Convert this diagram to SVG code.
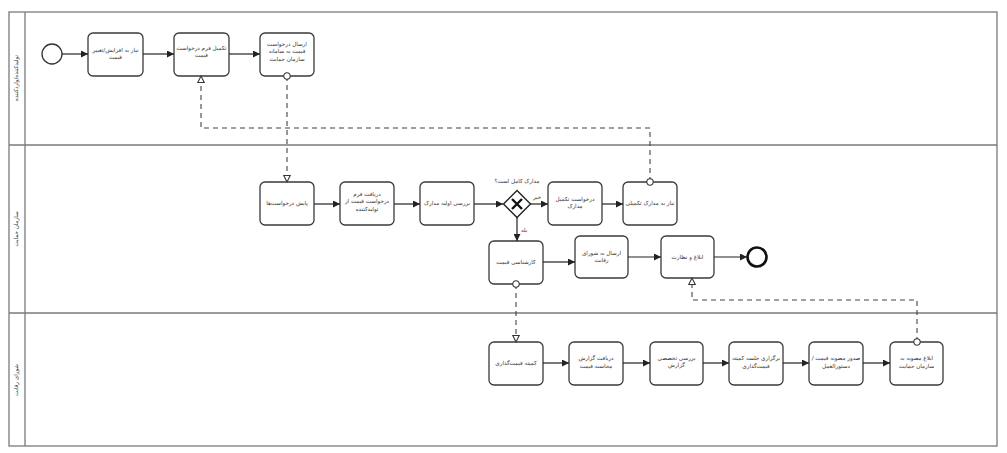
<svg xmlns="http://www.w3.org/2000/svg" width="1007" height="453" viewBox="0 0 1007 453">
<defs>
<style>
.pool{fill:none;stroke:#7a7a7a;stroke-width:1.3}
.task{fill:#fff;stroke:#3a3a3a;stroke-width:1.3}
.t{font-family:"DejaVu Sans",sans-serif;font-size:5.6px;fill:#333;text-anchor:middle}
.lane{font-family:"DejaVu Sans",sans-serif;font-size:5.6px;fill:#333;text-anchor:middle}
.seq{fill:none;stroke:#222;stroke-width:1.2}
.msg{fill:none;stroke:#444;stroke-width:1.1;stroke-dasharray:5 4}
</style>
<marker id="arr" viewBox="0 0 10 10" refX="10" refY="5" markerWidth="7" markerHeight="7" markerUnits="userSpaceOnUse" orient="auto">
<path d="M0,0 L10,5 L0,10 z" fill="#222"/>
</marker>
<marker id="tri" viewBox="0 0 10 10" refX="9" refY="5" markerWidth="8" markerHeight="8" markerUnits="userSpaceOnUse" orient="auto">
<path d="M1,1 L9,5 L1,9 z" fill="#fff" stroke="#333" stroke-width="1.3"/>
</marker>
<marker id="circ" viewBox="0 0 10 10" refX="5" refY="5" markerWidth="8" markerHeight="8" markerUnits="userSpaceOnUse" orient="auto">
<circle cx="5" cy="5" r="4" fill="#fff" stroke="#333" stroke-width="1.3"/>
</marker>
</defs>
<rect width="1007" height="453" fill="#fff"/>
<g id="pool">
<rect class="pool" x="9" y="12" width="988" height="434"/>
<line class="pool" x1="25" y1="12" x2="25" y2="446"/>
<line class="pool" x1="9" y1="145" x2="997" y2="145"/>
<line class="pool" x1="9" y1="313" x2="997" y2="313"/>
<text class="lane" transform="translate(18,78) rotate(-90)">تولیدکننده/واردکننده</text>
<text class="lane" transform="translate(18,229) rotate(-90)">سازمان حمایت</text>
<text class="lane" transform="translate(18,380) rotate(-90)">شورای رقابت</text>
</g>
<g id="start"><circle cx="52" cy="54" r="10" fill="#fff" stroke="#333" stroke-width="1.3"/></g>
<g id="t1"><rect class="task" x="88" y="33" width="55" height="43" rx="5"/><text class="t" x="115.5" y="52"><tspan x="115.5">نیاز به افزایش/تغییر</tspan><tspan x="115.5" dy="7">قیمت</tspan></text></g>
<g id="t2"><rect class="task" x="174" y="33" width="55" height="43" rx="5"/><text class="t" x="201.5" y="50"><tspan x="201.5">تکمیل فرم درخواست</tspan><tspan x="201.5" dy="7">قیمت</tspan></text></g>
<g id="t3"><rect class="task" x="260" y="33" width="54" height="43" rx="5"/><text class="t" x="287" y="46"><tspan x="287">ارسال درخواست</tspan><tspan x="287" dy="7">قیمت به سامانه</tspan><tspan x="287" dy="8">سازمان حمایت</tspan></text></g>
<g id="l2a"><rect class="task" x="260" y="182" width="54" height="43" rx="5"/><text class="t" x="287" y="205">پایش درخواست‌ها</text></g>
<g id="l2b"><rect class="task" x="340" y="182" width="54" height="43" rx="5"/><text class="t" x="367" y="196"><tspan x="367">دریافت فرم</tspan><tspan x="367" dy="7">درخواست قیمت از</tspan><tspan x="367" dy="8">تولیدکننده</tspan></text></g>
<g id="l2c"><rect class="task" x="420" y="182" width="54" height="43" rx="5"/><text class="t" x="447" y="205">بررسی اولیه مدارک</text></g>
<g id="l2d"><rect class="task" x="548" y="182" width="54" height="43" rx="5"/><text class="t" x="575" y="201"><tspan x="575">درخواست تکمیل</tspan><tspan x="575" dy="7">مدارک</tspan></text></g>
<g id="l2e"><rect class="task" x="623" y="182" width="54" height="43" rx="5"/><text class="t" x="650" y="205">نیاز به مدارک تکمیلی</text></g>
<g id="l2f"><rect class="task" x="489" y="241" width="54" height="43" rx="5"/><text class="t" x="516" y="264">کارشناسی قیمت</text></g>
<g id="l2g"><rect class="task" x="575" y="236" width="53" height="42" rx="5"/><text class="t" x="601.5" y="255"><tspan x="601.5">ارسال به شورای</tspan><tspan x="601.5" dy="7">رقابت</tspan></text></g>
<g id="l2h"><rect class="task" x="661" y="236" width="53" height="42" rx="5"/><text class="t" x="687.5" y="259">ابلاغ و نظارت</text></g>
<g id="end"><circle cx="757" cy="257" r="9.5" fill="#fff" stroke="#111" stroke-width="2.6"/></g>
<g id="l3a"><rect class="task" x="489" y="342" width="54" height="43" rx="5"/><text class="t" x="516" y="365">کمیته قیمت‌گذاری</text></g>
<g id="l3b"><rect class="task" x="569" y="342" width="54" height="43" rx="5"/><text class="t" x="596" y="360"><tspan x="596">دریافت گزارش</tspan><tspan x="596" dy="8">محاسبه قیمت</tspan></text></g>
<g id="l3c"><rect class="task" x="650" y="342" width="53" height="43" rx="5"/><text class="t" x="676.5" y="360"><tspan x="676.5">بررسی تخصصی</tspan><tspan x="676.5" dy="7">گزارش</tspan></text></g>
<g id="l3d"><rect class="task" x="729" y="342" width="54" height="43" rx="5"/><text class="t" x="756" y="360"><tspan x="756">برگزاری جلسه کمیته</tspan><tspan x="756" dy="8">قیمت‌گذاری</tspan></text></g>
<g id="l3e"><rect class="task" x="809" y="342" width="54" height="43" rx="5"/><text class="t" x="836" y="360"><tspan x="836">&#x202A;/ صدور مصوبه قیمت&#x202C;</tspan><tspan x="836" dy="8">دستورالعمل</tspan></text></g>
<g id="l3f"><rect class="task" x="890" y="342" width="53" height="43" rx="5"/><text class="t" x="916.5" y="360"><tspan x="916.5">ابلاغ مصوبه به</tspan><tspan x="916.5" dy="8">سازمان حمایت</tspan></text></g>
<g id="connectors">
<path class="seq" d="M62,54 H88" marker-end="url(#arr)"/>
<path class="seq" d="M143,54 H174" marker-end="url(#arr)"/>
<path class="seq" d="M229,54 H260" marker-end="url(#arr)"/>
<path class="seq" d="M314,204 H340" marker-end="url(#arr)"/>
<path class="seq" d="M394,204 H420" marker-end="url(#arr)"/>
<path class="seq" d="M474,204 H503" marker-end="url(#arr)"/>
<path class="seq" d="M530,204 H548" marker-end="url(#arr)"/>
<path class="seq" d="M602,204 H623" marker-end="url(#arr)"/>
<path class="seq" d="M517,217 V241" marker-end="url(#arr)"/>
<path class="seq" d="M543,262 H575" marker-end="url(#arr)"/>
<path class="seq" d="M628,257 H661" marker-end="url(#arr)"/>
<path class="seq" d="M714,257 H747" marker-end="url(#arr)"/>
<path class="seq" d="M543,363 H569" marker-end="url(#arr)"/>
<path class="seq" d="M623,363 H650" marker-end="url(#arr)"/>
<path class="seq" d="M703,363 H729" marker-end="url(#arr)"/>
<path class="seq" d="M783,363 H809" marker-end="url(#arr)"/>
<path class="seq" d="M863,363 H890" marker-end="url(#arr)"/>
<path class="msg" d="M287,76 V182" marker-start="url(#circ)" marker-end="url(#tri)"/>
<path class="msg" d="M650,182 V128 H201 V76" marker-start="url(#circ)" marker-end="url(#tri)"/>
<path class="msg" d="M516,284 V342" marker-start="url(#circ)" marker-end="url(#tri)"/>
<path class="msg" d="M917,342 V300 H692 V278" marker-start="url(#circ)" marker-end="url(#tri)"/>
<text class="t" x="537" y="199">خیر</text>
<text class="t" x="524" y="232">بله</text>
</g>
<g id="gw">
<path d="M517,190.5 L530.5,204 L517,217.5 L503.5,204 z" fill="#fff" stroke="#222" stroke-width="1.4"/>
<path d="M512,199 L522,209 M522,199 L512,209" stroke="#111" stroke-width="2.4"/>
<text class="t" x="517" y="183">مدارک کامل است؟</text>
</g>
</svg>
